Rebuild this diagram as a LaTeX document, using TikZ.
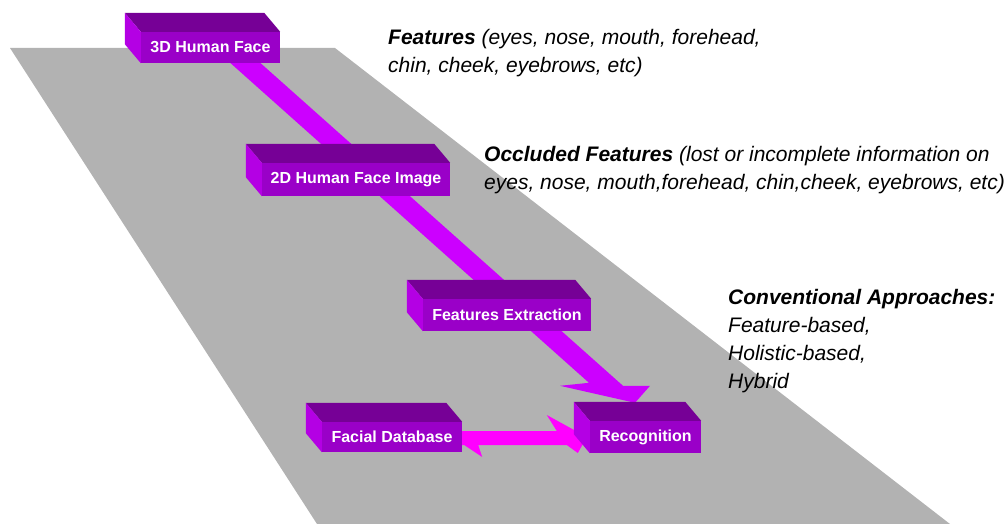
\documentclass[tikz,border=0pt]{standalone}
\usepackage{fontspec}
\setmainfont{Liberation Sans}
\definecolor{planegray}{RGB}{178,178,178}
\definecolor{facefront}{RGB}{154,0,200}
\definecolor{facetop}{RGB}{118,0,150}
\definecolor{faceside}{RGB}{180,0,228}
\definecolor{flowviolet}{RGB}{204,0,255}
\definecolor{flowmagenta}{RGB}{255,0,255}
\usetikzlibrary{calc, backgrounds}

\begin{document}
\begin{tikzpicture}[
  x=1pt, y=-1pt,
  stage/.style={fill=facefront, text=white, minimum height=31pt,
    inner sep=0pt, font=\fontsize{16}{19}\selectfont\bfseries},
  topface/.style={fill=facetop},
  sideface/.style={fill=faceside},
  note/.style={anchor=north west, align=left, inner sep=0pt,
    font=\fontsize{21}{28}\selectfont\itshape},
]
\useasboundingbox (0,0) rectangle (1008,524);

\node[stage, minimum width=139pt] (face3d) at (210.5,47.5) {3D Human Face};
\node[stage, minimum width=188pt, minimum height=33pt] (face2d) at (356,179.5) {2D Human Face Image};
\node[stage, minimum width=168pt, minimum height=32pt] (featext) at (507,315) {Features Extraction};
\node[stage, minimum width=140pt, minimum height=30pt] (facialdb) at (392,437) {Facial Database};
\node[stage, minimum width=111pt, minimum height=32pt] (recog) at (645.5,437) {Recognition};

\coordinate (flowstart) at ($(face3d.south)+(20.5,-13)$);
\coordinate (flowtip) at ($(recog.north)+(-10.5,-18)$);
\coordinate (dbstart) at (facialdb.east);
\coordinate (dbtip) at ($(recog.west)+(-3,0)$);

\begin{pgfonlayer}{background}
\fill[planegray] (10,48) -- (335,48) -- (950,524) -- (317,524) -- cycle;
\fill[flowviolet] ($(flowstart)+(-15,0)$) -- ($(flowstart)+(15,0)$)
  -- ($(flowtip)+(-12,-17)$) -- ($(flowtip)+(15,-17)$) -- (flowtip)
  -- ($(flowtip)+(-75,-17)$) -- ($(flowtip)+(-46,-20)$) -- cycle;
\fill[flowmagenta] ($(dbstart)+(0,-6)$) -- ($(dbtip)+(-30,-6)$)
  -- ($(dbtip)+(-40,-22)$) -- (dbtip) -- ($(dbtip)+(-9,16)$)
  -- ($(dbtip)+(-20,8)$) -- ($(dbstart)+(16,8)$) -- ($(dbstart)+(20,20)$)
  -- ($(dbstart)+(2,8)$) -- ($(dbstart)+(0,8)$) -- cycle;
\end{pgfonlayer}

\foreach \n in {face3d,face2d,featext,facialdb,recog}{
  \fill[topface] (\n.north west) -- ++(-16,-19)
    -- ($(\n.north east)+(-16,-19)$) -- (\n.north east) -- cycle;
  \fill[sideface] (\n.north west) -- ++(-16,-19)
    -- ($(\n.south west)+(-16,-19)$) -- (\n.south west) -- cycle;
}

\node[note] (featnote) at (388,29) {\textbf{Features} (eyes, nose, mouth, forehead,\\
  chin, cheek, eyebrows, etc)};
\node[note] (occnote) at (484,146) {\textbf{Occluded Features} (lost or incomplete information on\\
  eyes, nose, mouth,forehead, chin,cheek, eyebrows, etc)};
\node[note] (convnote) at (728,289) {\textbf{Conventional Approaches:}\\
  Feature-based,\\
  Holistic-based,\\
  Hybrid};
\end{tikzpicture}
\end{document}
